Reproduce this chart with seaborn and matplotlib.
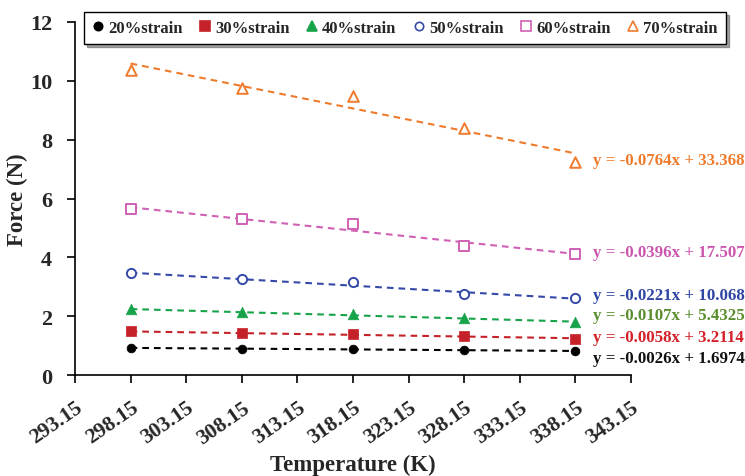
import numpy as np
import pandas as pd
import matplotlib
matplotlib.use("Agg")
import matplotlib.pyplot as plt
import seaborn as sns

# Temperatures (K) at which the force was measured
temperatures = [298.15, 308.15, 318.15, 328.15, 338.15]

# Measured force (N) for each strain level
force_20 = [0.92, 0.90, 0.88, 0.85, 0.81]
force_30 = [1.48, 1.43, 1.39, 1.33, 1.24]
force_40 = [2.23, 2.14, 2.06, 1.94, 1.79]
force_50 = [3.46, 3.26, 3.15, 2.76, 2.61]
force_60 = [5.66, 5.29, 5.15, 4.40, 4.13]
force_70 = [10.38, 9.76, 9.49, 8.38, 7.25]

strain_labels = ["20%strain", "30%strain", "40%strain",
                 "50%strain", "60%strain", "70%strain"]

# Linear trend line coefficients (y = slope * x + intercept)
slopes = [-0.0026, -0.0058, -0.0107, -0.0221, -0.0396, -0.0764]
intercepts = [1.6974, 3.2114, 5.4325, 10.068, 17.507, 33.368]

x_ticks = [293.15, 298.15, 303.15, 308.15, 313.15, 318.15,
           323.15, 328.15, 333.15, 338.15, 343.15]
y_ticks = [0, 2, 4, 6, 8, 10, 12]

series = [force_20, force_30, force_40, force_50, force_60, force_70]

# Styling
marker_colors = ["#000000", "#C42128", "#17A34A", "#3549A8", "#D060B4", "#EE7B2C"]
text_colors = ["#111111", "#D42129", "#5A8E2E", "#2F45A3", "#CC55AE", "#EE7B2C"]
markers = ["o", "s", "^", "o", "s", "^"]
hollow = [False, False, False, True, True, True]
sizes = [40, 50, 58, 44, 50, 58]
eq_y = [0.57, 1.29, 2.04, 2.72, 4.17, 7.32]

sns.set_style("white")
plt.rcParams["font.family"] = ["Liberation Serif", "DejaVu Serif"]
plt.rcParams["font.weight"] = "bold"

fig = plt.figure(figsize=(7.45, 4.77), dpi=100)
ax = fig.add_axes([0.1007, 0.2117, 0.7463, 0.7401])

handles = []
for i, vals in enumerate(series):
    df = pd.DataFrame({"Temperature": temperatures, "Force": vals})
    c = marker_colors[i]
    # fitted trend line
    xs = np.array([min(temperatures), max(temperatures)])
    ys = slopes[i] * xs + intercepts[i]
    sns.lineplot(x=xs, y=ys, ax=ax, color=c, lw=1.5,
                 linestyle=(0, (3.2, 2.4)), zorder=2)
    # measured points
    if hollow[i]:
        sns.scatterplot(data=df, x="Temperature", y="Force", ax=ax,
                        marker=markers[i], s=sizes[i], facecolor="white",
                        edgecolor=c, linewidth=1.4, zorder=3)
    else:
        sns.scatterplot(data=df, x="Temperature", y="Force", ax=ax,
                        marker=markers[i], s=sizes[i], color=c,
                        edgecolor=c, linewidth=0.5, zorder=3)
    handles.append(plt.Line2D([], [], linestyle="none", marker=markers[i],
                              markersize=6.5 if markers[i] != "o" else 6,
                              markerfacecolor="white" if hollow[i] else c,
                              markeredgecolor=c, markeredgewidth=1.2))
    ax.text(max(temperatures) + 1.55, eq_y[i],
            f"y = {slopes[i]:g}x + {intercepts[i]:g}",
            color=text_colors[i], fontsize=12.2, fontweight="bold",
            ha="left", va="center", clip_on=False)

ax.set_xlim(x_ticks[0], x_ticks[-1])
ax.set_ylim(y_ticks[0], y_ticks[-1])
ax.set_xticks(x_ticks)
ax.set_yticks(y_ticks)
ax.set_xticklabels([f"{t:.2f}" for t in x_ticks], rotation=35,
                   ha="right", va="top", rotation_mode="anchor", fontsize=15.5)
ax.set_yticklabels([str(t) for t in y_ticks], fontsize=16)
ax.tick_params(axis="both", direction="out", length=5.5, width=1.2,
               color="black", left=True, bottom=True)
ax.tick_params(axis="y", pad=11)
ax.tick_params(axis="x", pad=10.5)

for side in ["top", "right"]:
    ax.spines[side].set_visible(False)
for side in ["left", "bottom"]:
    ax.spines[side].set_color("black")
    ax.spines[side].set_linewidth(1.2)

ax.set_xlabel("Temperature (K)", fontsize=16.5, fontweight="bold")
ax.set_ylabel("Force (N)", fontsize=16.5, fontweight="bold")
ax.xaxis.set_label_coords(0.5, -0.222)
ax.yaxis.set_label_coords(-0.085, 0.5)

leg = fig.legend(handles, strain_labels, loc="center",
                 bbox_to_anchor=(0.5436, 0.939), ncol=6, frameon=True,
                 fancybox=False, shadow=True, edgecolor="black",
                 fontsize=12, handlelength=0.7, handletextpad=0.25,
                 columnspacing=1.0, borderpad=0.5)
leg.get_frame().set_linewidth(1.0)

fig.savefig("out.png", dpi=100)
